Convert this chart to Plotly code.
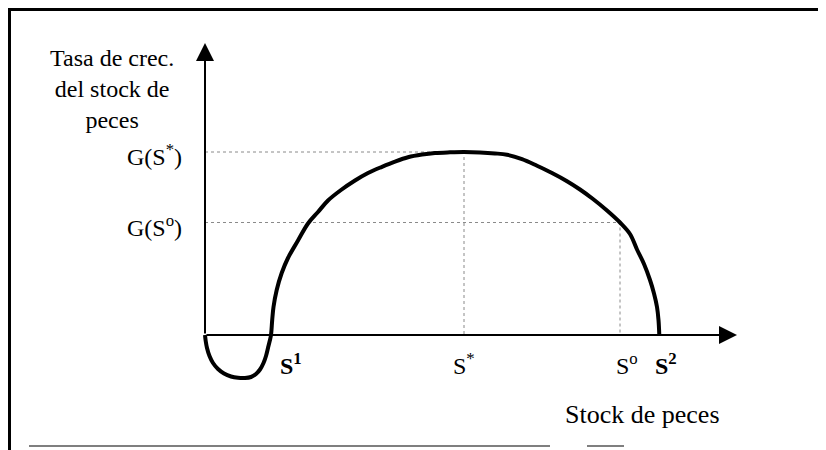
import plotly.graph_objects as go

# ---- data (arbitrary units) ----
curve_stock = [0, 0.7, 2, 4.5, 8, 13, 19, 26, 33, 40, 46, 51, 55, 58.5, 61, 63, 64.7, 66,
               67.2, 68.5, 71.7, 76.7, 83, 93, 103, 113, 123, 136, 150, 163, 177, 190,
               203, 217, 230, 245, 259,
               275, 290, 302, 317, 332, 347, 362, 375, 388, 402, 415, 425, 432, 439,
               445, 449, 452, 453.5, 454.3]
curve_growth = [0, -6, -13, -21, -28, -34, -38.5, -41.5, -42.8, -43, -42, -39, -34.5, -28,
                -21, -13, -6, 0,
                15, 28, 45, 62, 77, 94.5, 111.5, 123, 134.5, 145, 154.5, 162, 168.2, 173.4,
                177.7, 180.4, 182, 182.7, 183,
                182.6, 181.6, 180.2, 175.8, 169.2, 162, 153.8, 145.5, 136, 124.5, 112.5,
                101, 85.5, 71, 55, 41.5, 28, 15, 0]

S1, S_star, S_o, S2 = 66, 259, 415, 454
G_star, G_o = 183, 112.5
y_axis_top, x_axis_end = 292, 532

tick_labels_x = ["<b>S<sup>1</sup></b>", "S<sup>*</sup>", "S<sup>o</sup>", "<b>S<sup>2</sup></b>"]
tick_pos_x = [S1, S_star, S_o, S2]
tick_shift_x = [12, -8, -1, -1]
tick_labels_y = ["G(S<sup>*</sup>)", "G(S<sup>o</sup>)"]
tick_pos_y = [G_star, G_o]
y_title = "Tasa de crec.<br>del stock de<br>peces"
x_title = "Stock de peces"

FONT = "Liberation Serif"
OFF = 8                 # page body margin in the browser
W, H = 826 - OFF, 450 - OFF
X0, Y0 = 205 - OFF, 335 - OFF  # pixel position of the origin inside the figure

fig = go.Figure()

# dotted guide lines
guide = dict(color="#8a8a8a", width=1, dash="dot")
fig.add_trace(go.Scatter(x=[0, S_star, S_star], y=[G_star, G_star, 0], mode="lines",
                         line=guide, hoverinfo="skip"))
fig.add_trace(go.Scatter(x=[0, S_o, S_o], y=[G_o, G_o, 0], mode="lines",
                         line=guide, hoverinfo="skip"))

# growth curve
fig.add_trace(go.Scatter(x=curve_stock, y=curve_growth, mode="lines",
                         line=dict(color="black", width=4, shape="spline", smoothing=1.0),
                         hoverinfo="skip"))

annotations = []
# axes with arrows
for tip_x, tip_y in [(0, y_axis_top), (x_axis_end, 0)]:
    annotations.append(dict(x=tip_x, y=tip_y, ax=0, ay=0, xref="x", yref="y",
                            axref="x", ayref="y", showarrow=True, arrowhead=2,
                            arrowsize=1.8, arrowwidth=2, arrowcolor="black", text=""))

# x labels
for lab, pos, dx in zip(tick_labels_x, tick_pos_x, tick_shift_x):
    annotations.append(dict(x=pos, y=0, xref="x", yref="y", text=lab, showarrow=False,
                            xanchor="center", yanchor="middle", xshift=dx + 8, yshift=-29,
                            font=dict(family=FONT, size=24, color="black")))
# y labels
for lab, pos in zip(tick_labels_y, tick_pos_y):
    annotations.append(dict(x=0, y=pos, xref="x", yref="y", text=lab, showarrow=False,
                            xanchor="right", yanchor="middle", xshift=-21, yshift=-3,
                            font=dict(family=FONT, size=24, color="black")))


def px(x):
    return (x - OFF) / W


def py(y):
    return 1 - (y - OFF) / H


# axis titles (placed in paper coordinates)
annotations.append(dict(x=px(112), y=py(89), xref="paper", yref="paper", text=y_title,
                        showarrow=False, xanchor="center", yanchor="middle", align="center",
                        font=dict(family=FONT, size=24, color="black")))
annotations.append(dict(x=px(642), y=py(414), xref="paper", yref="paper", text=x_title,
                        showarrow=False, xanchor="center", yanchor="middle",
                        font=dict(family=FONT, size=26, color="black")))

shapes = [
    dict(type="line", xref="paper", yref="paper", x0=px(8), y0=py(9.5), x1=px(824), y1=py(9.5),
         line=dict(color="black", width=3)),
    dict(type="line", xref="paper", yref="paper", x0=px(9.5), y0=py(8), x1=px(9.5), y1=py(450),
         line=dict(color="black", width=3)),
    dict(type="line", xref="paper", yref="paper", x0=px(823), y0=py(8), x1=px(823), y1=py(248),
         line=dict(color="black", width=3)),
    dict(type="line", xref="paper", yref="paper", x0=px(823), y0=py(248), x1=px(823), y1=py(388),
         line=dict(color="#aaaaaa", width=1.5)),
    dict(type="line", xref="paper", yref="paper", x0=px(29), y0=py(446), x1=px(550), y1=py(446),
         line=dict(color="#555555", width=1.5)),
    dict(type="line", xref="paper", yref="paper", x0=px(587), y0=py(446), x1=px(624), y1=py(446),
         line=dict(color="#555555", width=1.5)),
]

fig.update_layout(
    width=W, height=H, autosize=False,
    margin=dict(l=0, r=0, t=0, b=0, pad=0),
    plot_bgcolor="white", paper_bgcolor="white",
    showlegend=False,
    xaxis=dict(range=[-X0, W - X0], visible=False, fixedrange=True),
    yaxis=dict(range=[Y0 - H, Y0], visible=False, fixedrange=True),
    annotations=annotations,
    shapes=shapes,
)

fig.write_html("out.html")
